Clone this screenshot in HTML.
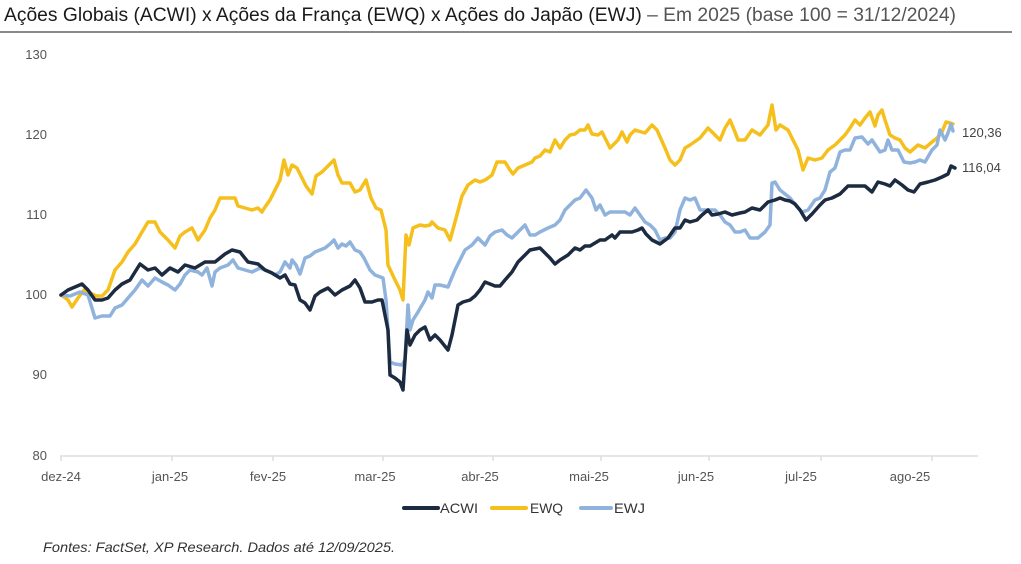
<!DOCTYPE html>
<html><head><meta charset="utf-8"><style>
html,body{margin:0;padding:0;background:#fff;}
svg{display:block;font-family:"Liberation Sans",sans-serif;}
</style></head><body>
<svg width="1021" height="564" viewBox="0 0 1021 564">
<text x="4" y="21" font-size="19" fill="#1a1a1a" textLength="952" lengthAdjust="spacingAndGlyphs">Ações Globais (ACWI) x Ações da França (EWQ) x Ações do Japão (EWJ) <tspan fill="#555">– Em 2025 (base 100 = 31/12/2024)</tspan></text>
<rect x="0" y="31" width="1012" height="2" fill="#8a8a8a"/>
<g font-size="13" fill="#555" text-anchor="end">
<text x="47" y="59">130</text><text x="47" y="139">120</text><text x="47" y="219">110</text><text x="47" y="299">100</text><text x="47" y="379">90</text><text x="47" y="460">80</text>
</g>
<line x1="60" y1="456" x2="978" y2="456" stroke="#ddd" stroke-width="1.5"/>
<g stroke="#ddd" stroke-width="1.5">
<line x1="61" y1="456" x2="61" y2="461"/><line x1="172" y1="456" x2="172" y2="461"/><line x1="273" y1="456" x2="273" y2="461"/><line x1="383" y1="456" x2="383" y2="461"/><line x1="493" y1="456" x2="493" y2="461"/><line x1="601" y1="456" x2="601" y2="461"/><line x1="709" y1="456" x2="709" y2="461"/><line x1="821" y1="456" x2="821" y2="461"/><line x1="932" y1="456" x2="932" y2="461"/>
</g>
<g font-size="13" fill="#555" text-anchor="middle">
<text x="61" y="481">dez-24</text><text x="170" y="481">jan-25</text><text x="268" y="481">fev-25</text><text x="375" y="481">mar-25</text><text x="480" y="481">abr-25</text><text x="589" y="481">mai-25</text><text x="696" y="481">jun-25</text><text x="801" y="481">jul-25</text><text x="910" y="481">ago-25</text>
</g>
<g fill="none" stroke-width="3.5" stroke-linejoin="round" stroke-linecap="round">
<polyline stroke="#f5bf1c" points="61,295 68,300 72,307 78,298 84,290 90,293 96,296 102,296 108,290 115,270 122,262 128,252 135,244 142,232 148,222 155,222 160,232 168,240 175,248 180,236 185,232 192,228 198,240 205,230 210,218 215,210 220,198 228,198 235,198 238,206 245,208 252,210 258,208 262,212 265,207 270,200 275,190 280,180 284,160 288,175 292,165 297,168 302,178 306,186 312,194 316,176 322,172 330,164 334,160 338,175 342,183 350,183 355,192 360,190 366,180 371,198 376,208 381,210 386,230 388,265 395,280 400,290 403,300 406,235 409,245 413,228 420,225 425,226 430,225 432,222 438,228 445,230 450,240 455,222 462,196 468,185 475,180 480,182 485,180 488,178 492,175 497,162 505,162 510,170 513,174 518,168 525,165 532,162 535,158 540,156 545,150 550,152 555,140 560,148 565,140 570,135 575,134 580,130 585,130 588,125 592,134 598,135 602,132 606,140 610,148 618,140 622,132 627,142 630,135 635,130 645,133 652,125 657,130 665,148 670,160 675,165 680,160 685,148 690,145 700,138 708,128 715,135 720,140 725,128 730,120 735,132 738,140 745,140 752,130 760,135 768,125 772,105 776,130 780,125 788,130 792,138 798,150 803,170 808,158 815,160 822,158 828,150 835,145 840,140 845,135 850,128 855,120 860,125 865,118 870,112 875,126 878,115 882,110 885,120 890,135 895,138 900,140 905,148 910,152 918,145 925,148 932,142 937,138 942,132 946,122 950,123 953,124"/>
<polyline stroke="#8fb3dc" points="61,295 70,296 80,292 88,295 95,318 102,316 110,316 115,308 122,305 128,298 135,290 142,280 148,286 155,278 162,282 168,285 175,290 180,284 185,275 190,270 198,272 202,275 207,268 212,286 215,272 220,268 228,265 233,260 238,268 245,270 252,272 260,268 265,270 270,272 275,275 280,272 285,262 290,268 292,260 296,265 300,274 305,258 310,256 315,252 320,250 325,248 330,244 334,240 338,248 342,244 346,246 350,242 355,250 360,252 364,258 370,270 375,275 383,278 386,300 390,362 395,364 402,365 405,360 408,305 410,330 413,320 418,312 425,300 428,292 432,298 435,285 440,285 448,287 450,282 455,270 460,260 465,250 472,245 478,238 485,245 490,236 495,232 502,230 507,235 512,238 518,232 525,225 530,235 535,235 540,232 548,228 555,225 560,220 565,210 570,205 575,200 580,198 586,190 592,198 596,210 600,205 605,215 610,212 618,212 625,212 630,215 635,208 640,215 645,222 650,225 655,230 660,240 665,238 670,238 675,232 680,210 685,198 690,200 695,198 700,210 708,210 715,210 720,215 725,222 730,225 735,232 740,232 745,230 750,238 758,238 765,232 770,225 772,183 775,182 780,190 785,194 790,198 798,208 802,212 808,210 815,200 820,198 825,190 830,172 835,168 840,152 845,150 850,150 855,138 862,137 868,144 872,140 876,146 880,152 885,150 888,140 892,150 898,150 904,162 910,163 915,162 920,160 925,162 932,150 937,145 940,130 945,140 948,133 951,124 953,131"/>
<polyline stroke="#1c2b40" points="61,295 68,290 75,287 82,284 88,290 95,300 102,300 108,298 115,290 122,284 130,280 140,264 148,270 155,268 162,275 170,268 178,272 185,265 195,268 205,262 215,262 225,254 232,250 240,252 248,262 258,264 265,270 272,273 280,278 285,275 290,284 295,285 300,300 305,303 310,310 315,296 320,292 328,288 335,295 342,290 350,286 355,280 360,288 365,302 372,302 378,300 382,300 388,330 390,375 395,378 400,382 403,390 407,330 410,345 415,335 420,330 425,327 430,340 435,335 440,340 448,350 452,335 458,305 463,302 470,300 475,296 480,290 485,282 490,284 495,286 500,286 505,280 512,272 518,262 525,255 530,250 540,248 550,258 555,264 560,260 568,255 575,248 580,250 585,246 590,246 600,240 605,240 612,235 615,238 620,232 625,232 632,232 638,230 642,228 646,234 652,240 660,244 668,238 675,228 680,228 685,220 690,222 697,220 702,215 708,210 712,215 718,214 725,212 732,215 740,213 745,212 752,208 760,210 768,202 775,200 780,198 785,200 790,201 795,204 800,210 806,220 812,214 820,205 825,200 832,198 840,194 848,186 855,186 865,186 872,192 878,182 885,184 890,186 895,180 902,185 908,190 914,192 920,184 928,182 935,180 942,177 948,174 951,166 955,168"/>
</g>
<g font-size="13" fill="#444">
<text x="962" y="137">120,36</text><text x="962" y="172">116,04</text>
</g>
<g stroke-width="4" stroke-linecap="round">
<line x1="404" y1="508" x2="438" y2="508" stroke="#1c2b40"/>
<line x1="492" y1="508" x2="526" y2="508" stroke="#f5bf1c"/>
<line x1="581" y1="508" x2="611" y2="508" stroke="#8fb3dc"/>
</g>
<g font-size="14" fill="#333">
<text x="440" y="513" textLength="38" lengthAdjust="spacingAndGlyphs">ACWI</text><text x="530" y="513" textLength="33" lengthAdjust="spacingAndGlyphs">EWQ</text><text x="614" y="513" textLength="31" lengthAdjust="spacingAndGlyphs">EWJ</text>
</g>
<text x="43" y="552" font-size="14" font-style="italic" fill="#333" textLength="352" lengthAdjust="spacingAndGlyphs">Fontes: FactSet, XP Research. Dados até 12/09/2025.</text>
</svg>
</body></html>
